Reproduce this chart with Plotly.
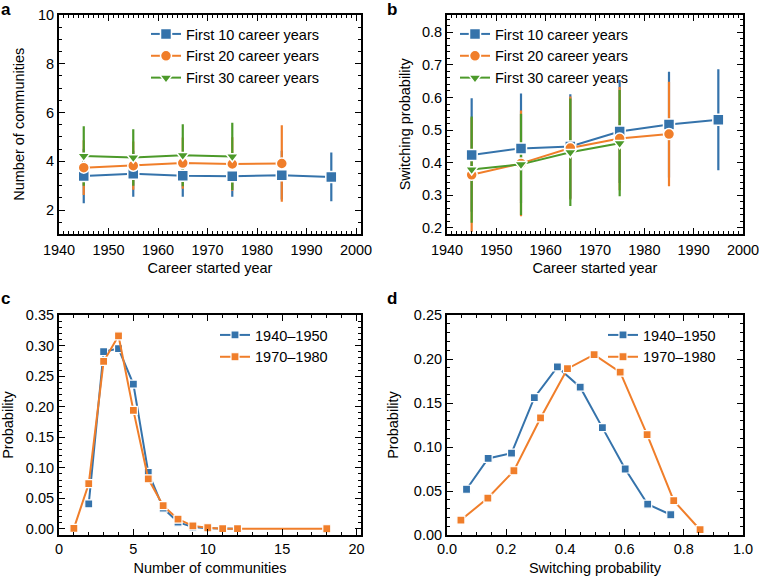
import plotly.graph_objects as go

# ---------------- data ----------------
years = [1945, 1955, 1965, 1975, 1985, 1995]

# panel a: number of communities
comm10 = [3.40, 3.49, 3.41, 3.39, 3.43, 3.36]
comm10_err = [1.12, 0.94, 0.86, 0.84, 1.00, 1.00]
comm20 = [3.74, 3.82, 3.93, 3.89, 3.91]
comm20_err = [1.12, 0.99, 1.05, 1.10, 1.57]
comm30 = [4.22, 4.16, 4.25, 4.20]
comm30_err = [1.22, 1.16, 1.27, 1.38]

# panel b: switching probability
sw10 = [0.424, 0.444, 0.450, 0.496, 0.517, 0.532]
sw10_err = [0.174, 0.168, 0.160, 0.158, 0.162, 0.155]
sw20 = [0.363, 0.398, 0.445, 0.474, 0.488]
sw20_err = [0.175, 0.162, 0.158, 0.158, 0.160]
sw30 = [0.379, 0.395, 0.432, 0.460]
sw30_err = [0.163, 0.155, 0.165, 0.163]

# panel c: distribution of number of communities
nc_x_4050 = [2, 3, 4, 5, 6, 7, 8, 9, 10, 11, 12]
nc_p_4050 = [0.041, 0.290, 0.295, 0.237, 0.0925, 0.034, 0.011, 0.003, 0.001, 0.0005, 0.0003]
nc_x_7080 = [1, 2, 3, 4, 5, 6, 7, 8, 9, 10, 11, 12, 18]
nc_p_7080 = [0.001, 0.074, 0.274, 0.316, 0.194, 0.082, 0.038, 0.016, 0.005, 0.002, 0.0005, 0.0005, 0.0003]

# panel d: distribution of switching probability
sp_x_4050 = [0.066, 0.139, 0.218, 0.295, 0.373, 0.450, 0.525, 0.602, 0.678, 0.756]
sp_p_4050 = [0.052, 0.087, 0.093, 0.156, 0.191, 0.168, 0.122, 0.075, 0.035, 0.023]
sp_x_7080 = [0.047, 0.138, 0.226, 0.316, 0.407, 0.497, 0.585, 0.676, 0.766, 0.855]
sp_p_7080 = [0.017, 0.042, 0.073, 0.133, 0.189, 0.205, 0.185, 0.114, 0.039, 0.006]

labels_top = ["First 10 career years", "First 20 career years", "First 30 career years"]
labels_bot = ["1940\u20131950", "1970\u20131980"]

BLUE = "#3573AB"
ORANGE = "#F07E2A"
GREEN = "#4C9A2A"
FONT = "Liberation Sans, Arial, Helvetica, sans-serif"
FS = 14.5

W, H = 759, 577

fig = go.Figure()

# ---------- panels a & b ----------
top_series = [
    ("x", "y", [(comm10, comm10_err), (comm20, comm20_err), (comm30, comm30_err)], "legend"),
    ("x2", "y2", [(sw10, sw10_err), (sw20, sw20_err), (sw30, sw30_err)], "legend2"),
]
colors = [BLUE, ORANGE, GREEN]
symbols = ["square", "circle", "triangle-down"]
sizes = [11, 11, 11]

for xa, ya, series, leg in top_series:
    # error bars first
    for (vals, errs), col in zip(series, colors):
        n = len(vals)
        fig.add_trace(go.Scatter(
            x=years[:n], y=vals, xaxis=xa, yaxis=ya, mode="markers",
            marker=dict(size=1, color="rgba(0,0,0,0)"),
            error_y=dict(type="data", array=errs, visible=True, color=col,
                         thickness=2.2, width=0),
            showlegend=False, hoverinfo="skip"))
    for (vals, errs), col, sym, sz, lab in zip(series, colors, symbols, sizes, labels_top):
        n = len(vals)
        fig.add_trace(go.Scatter(
            x=years[:n], y=vals, xaxis=xa, yaxis=ya, mode="lines+markers",
            name=lab, legend=leg,
            line=dict(color=col, width=2),
            marker=dict(symbol=sym, size=sz, color=col, line=dict(color="white", width=1.5))))

# ---------- panels c & d ----------
bot = [
    ("x3", "y3", [(nc_x_4050, nc_p_4050), (nc_x_7080, nc_p_7080)], "legend3"),
    ("x4", "y4", [(sp_x_4050, sp_p_4050), (sp_x_7080, sp_p_7080)], "legend4"),
]
for xa, ya, series, leg in bot:
    for (xs, ps), col, lab in zip(series, [BLUE, ORANGE], labels_bot):
        fig.add_trace(go.Scatter(
            x=xs, y=ps, xaxis=xa, yaxis=ya, mode="lines+markers", name=lab, legend=leg,
            line=dict(color=col, width=2),
            marker=dict(symbol="square", size=8, color=col, line=dict(color="white", width=1.2))))

# ---------- axes ----------
def px_x(p):
    return p / W

def px_y(p):
    return 1 - p / H

def axis(domain, rng, dtick, minor_dtick, title, standoff, tickformat=None, anchor=None, tls=0):
    d = dict(
        domain=domain, range=rng, dtick=dtick, tick0=0, automargin=False,
        showline=True, linecolor="black", linewidth=2, mirror="allticks",
        ticks="inside", ticklen=6, tickwidth=1.2, tickcolor="black",
        minor=dict(ticks="inside", ticklen=3, tickwidth=1, tickcolor="black", dtick=minor_dtick),
        showgrid=False, zeroline=False, ticklabelstandoff=tls, ticklabeloverflow="allow",
        tickfont=dict(family=FONT, size=FS, color="black"),
        title=dict(text=title, font=dict(family=FONT, size=FS, color="black"), standoff=standoff),
        anchor=anchor,
    )
    if tickformat:
        d["tickformat"] = tickformat
    return d

xa_dom = [px_x(59), px_x(361)]
xb_dom = [px_x(447), px_x(743)]
ytop_dom = [px_y(233.5), px_y(15)]
ybot_dom = [px_y(535), px_y(315)]

fig.update_layout(
    xaxis=axis(xa_dom, [1940, 2001], 10, 1, "Career started year", 6, anchor="y", tls=2),
    yaxis=axis(ytop_dom, [1.04, 10], 2, 0.5, "Number of communities", 10, anchor="x"),
    xaxis2=axis(xb_dom, [1940, 2000], 10, 1, "Career started year", 6, anchor="y2", tls=2),
    yaxis2=axis(ytop_dom, [0.183, 0.853], 0.1, 0.02, "Switching probability", 8, ".1f", anchor="x2"),
    xaxis3=axis(xa_dom, [0, 20.3], 5, 1, "Number of communities", 6, anchor="y3"),
    yaxis3=axis(ybot_dom, [-0.0099, 0.35], 0.05, 0.01, "Probability", 11, ".2f", anchor="x3"),
    xaxis4=axis(xb_dom, [0, 1], 0.2, 0.05, "Switching probability", 6, ".1f", anchor="y4"),
    yaxis4=axis(ybot_dom, [0, 0.25], 0.05, 0.01, "Probability", 12, ".2f", anchor="x4"),
)

leg_common = dict(
    font=dict(family=FONT, size=FS, color="black"),
    bgcolor="rgba(0,0,0,0)", borderwidth=0, xanchor="left", yanchor="top",
    itemwidth=30, tracegroupgap=0,
)
fig.update_layout(
    legend=dict(x=px_x(146), y=px_y(18), **leg_common),
    legend2=dict(x=px_x(455), y=px_y(18), **leg_common),
    legend3=dict(x=px_x(215), y=px_y(319), **leg_common),
    legend4=dict(x=px_x(603), y=px_y(319), **leg_common),
)

# panel letters
for letter, x, y in [("a", -1, -2), ("b", 385, -2), ("c", -1, 287), ("d", 385, 287)]:
    fig.add_annotation(text="<b>%s</b>" % letter, xref="paper", yref="paper",
                       x=px_x(x), y=px_y(y), xanchor="left", yanchor="top", showarrow=False,
                       font=dict(family=FONT, size=17, color="black"))

fig.update_layout(
    template="none",
    width=W, height=H, margin=dict(l=0, r=0, t=0, b=0, autoexpand=False),
    paper_bgcolor="white", plot_bgcolor="white", showlegend=True,
)

fig.write_html("out.html", config={"displayModeBar": False},
               post_script="document.body.style.margin='0px';")
